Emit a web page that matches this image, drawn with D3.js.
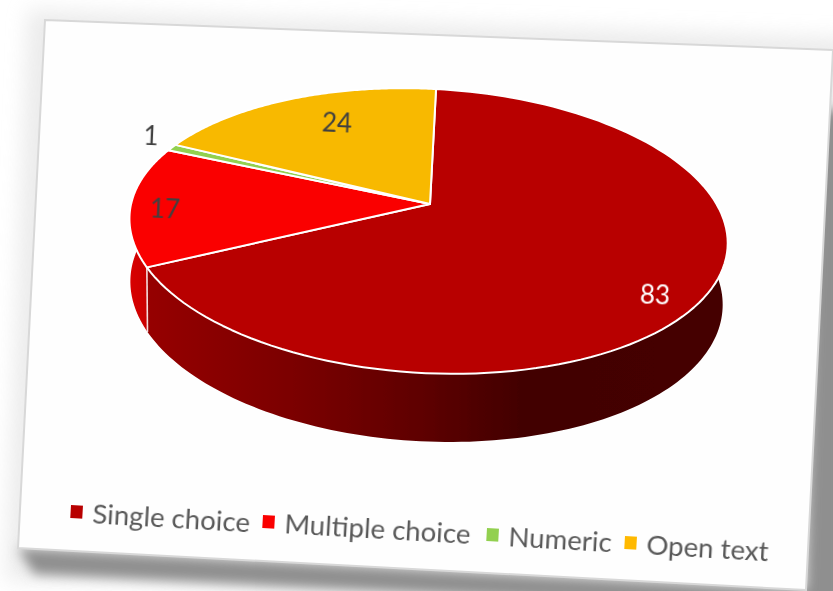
<!DOCTYPE html>
<html><head><meta charset="utf-8">
<script src="https://cdn.jsdelivr.net/npm/d3@7/dist/d3.min.js"></script>
<style>html,body{margin:0;padding:0;background:#fff}svg{display:block}</style>
</head><body><div id="c"></div>
<script>
const categories = ["Single choice","Multiple choice","Numeric","Open text"];
const values = [83,17,1,24];
const colors = ["#b80000","#fa0000","#92d050","#f8b900"];
const W=833,H=591;
const svg=d3.select("#c").append("svg").attr("width",W).attr("height",H);
const defs=svg.append("defs");
const blur=(id,s)=>defs.append("filter").attr("id",id).attr("x","-20%").attr("y","-20%").attr("width","140%").attr("height","140%")
  .append("feGaussianBlur").attr("stdDeviation",s);
blur("sh",6); blur("sh2",10); blur("soft",0.6);
const grad=defs.append("linearGradient").attr("id","sideG").attr("gradientUnits","userSpaceOnUse")
  .attr("x1",147).attr("x2",725).attr("y1",0).attr("y2",0);
[[0,"#960000"],[0.26,"#7a0000"],[0.47,"#5f0000"],[0.65,"#420000"],[1,"#450000"]].forEach(d=>grad.append("stop").attr("offset",d[0]).attr("stop-color",d[1]));
const grad2=defs.append("linearGradient").attr("id","sideR").attr("gradientUnits","userSpaceOnUse")
  .attr("x1",130).attr("x2",150).attr("y1",0).attr("y2",0);
[[0,"#d80000"],[1,"#c80000"]].forEach(d=>grad2.append("stop").attr("offset",d[0]).attr("stop-color",d[1]));

// card and shadow
const card=[[45,20],[833,50],[806,590],[18,548]];
const line=d3.line();
svg.append("path").attr("d",line([[28,10],[850,38],[850,600],[6,580]])+"Z").attr("fill","#dcdcdc").attr("filter","url(#sh2)").attr("opacity",.55);
svg.append("path").attr("d",line([[34,574],[790,612],[845,612],[845,110],[818,110],[806,590],[18,548]])+"Z").attr("fill","#8f8f8f").attr("filter","url(#sh)");
svg.append("path").attr("d",line(card)+"Z").attr("fill","#fefefe").attr("stroke","#d8d8d8").attr("stroke-width",2);

// pie geometry (perspective projection of a tilted disc)
const pie=d3.pie().sort(null).value(d=>d)(values);
const cx=430,cy=204,Rx=294,b=137,k=0.19,rot=3*Math.PI/180;
const proj=(a,r,lower)=>{
  const x=Math.sin(a)*r,y=-Math.cos(a)*r;
  const s=1/(1-k*y);
  const sx=lower?0.99:1, sy=lower?1.043:1, dx=lower?-2:0, dy=lower?61:0;
  const X=Rx*x*s*sx, Y=b*y*s*sy;
  return [cx+dx+X*Math.cos(rot)-Y*Math.sin(rot), cy+dy+X*Math.sin(rot)+Y*Math.cos(rot)];
};
const samples=(a0,a1,lower)=>d3.range(0,121).map(i=>proj(a0+(a1-a0)*i/120,1,lower));
const g=svg.append("g").attr("filter","url(#soft)");

// side walls
const side=(a0,a1)=>samples(a0,a1,false).concat(samples(a0,a1,true).reverse());
const single=pie[0];
g.append("path").attr("d",line(side(Math.PI*0.45,single.endAngle))+"Z").attr("fill","url(#sideG)");
g.append("path").attr("d",line(side(single.endAngle,Math.PI*1.55))+"Z").attr("fill","url(#sideR)");
// wall seam
g.append("path").attr("d",line([proj(single.endAngle,1,false),proj(single.endAngle,1,true)])).attr("stroke","#f4dcdc").attr("stroke-width",1.6);

// top slices
g.selectAll("path.slice").data(pie).join("path").attr("class","slice")
 .attr("d",d=>line([proj(0,0,false)].concat(samples(d.startAngle,d.endAngle,false)))+"Z")
 .attr("fill",(d,i)=>colors[i]).attr("stroke","#fff").attr("stroke-width",2).attr("stroke-linejoin","round");

// data labels
const labelPos=[[655,294,"#fff"],[165,208,"#404040"],[151,135,"#404040"],[337,122,"#404040"]];
svg.selectAll("text.lab").data(values).join("text").attr("class","lab")
 .attr("transform",(d,i)=>`translate(${labelPos[i][0]},${labelPos[i][1]}) rotate(2.5)`)
 .attr("text-anchor","middle").attr("dominant-baseline","central")
 .attr("font-family","Lato").attr("font-size",26).attr("fill",(d,i)=>labelPos[i][2]).attr("filter","url(#soft)")
 .text(d=>d);

// legend
const legendPos=[[71,505],[263,515],[487,528],[625,536]];
const leg=svg.selectAll("g.leg").data(categories).join("g").attr("class","leg")
 .attr("transform",(d,i)=>`translate(${legendPos[i][0]},${legendPos[i][1]}) rotate(3.3)`).attr("filter","url(#soft)");
leg.append("rect").attr("width",12).attr("height",13).attr("fill",(d,i)=>colors[i]===colors[3]?"#ffb900":colors[i]);
leg.append("text").attr("x",22).attr("y",17).attr("font-family","Lato").attr("font-size",27.6).attr("fill","#595959").text(d=>d);
</script></body></html>
